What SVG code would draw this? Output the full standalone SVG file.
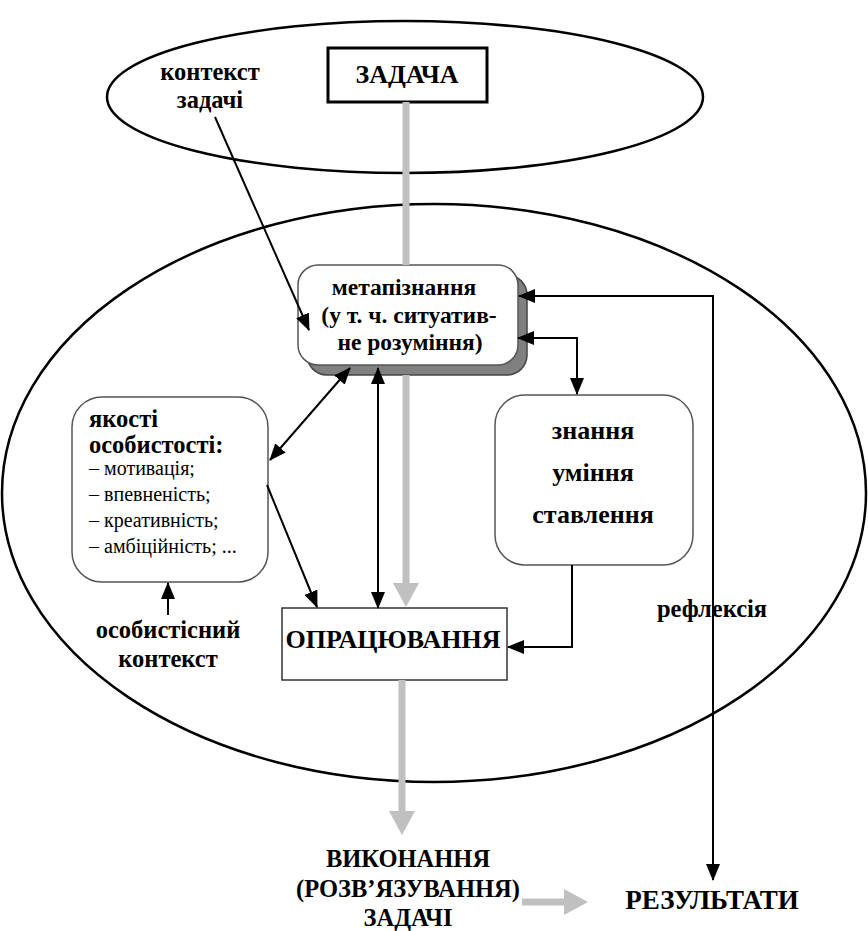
<svg xmlns="http://www.w3.org/2000/svg" width="868" height="931" viewBox="0 0 868 931">
<style>
text{font-family:"Liberation Serif","DejaVu Serif",serif}
.b{font-weight:bold;font-size:24.5px;fill:#000}
.r{font-size:20px;fill:#000}
.c{text-anchor:middle}
.ell{fill:none;stroke:#000;stroke-width:2.5}
.rbox{fill:#fff;stroke:#555;stroke-width:1.5}
.k{fill:none;stroke:#000;stroke-width:2}
.g{fill:none;stroke:#c0c0c0;stroke-width:7}
</style>
<defs>
<marker id="ah" markerUnits="userSpaceOnUse" markerWidth="17" markerHeight="14" refX="16" refY="7" orient="auto-start-reverse" viewBox="0 0 17 14">
<path d="M0,0 L17,7 L0,14 z" fill="#000"/>
</marker>
<marker id="gh" markerUnits="userSpaceOnUse" markerWidth="24" markerHeight="26" refX="4" refY="13" orient="auto" viewBox="0 0 24 26">
<path d="M0,0 L24,13 L0,26 z" fill="#c0c0c0"/>
</marker>
</defs>
<rect width="868" height="931" fill="#fff"/>
<g id="ellipses">
<ellipse id="task-context-ellipse" class="ell" cx="405" cy="97" rx="298" ry="76"/>
<ellipse id="process-ellipse" class="ell" cx="434" cy="493" rx="432" ry="289"/>
</g>
<g id="zadacha">
<rect x="328" y="48" width="159" height="54" fill="#fff" stroke="#000" stroke-width="3"/>
<text class="b c" x="407" y="83" style="font-size:26px">ЗАДАЧА</text>
</g>
<g id="kontekst-zadachi">
<text class="b c" x="210" y="80">контекст</text>
<text class="b c" x="210" y="108">задачі</text>
</g>
<g id="metapiznannia">
<rect x="307" y="275" width="220" height="100" rx="20" fill="#808080" stroke="#444" stroke-width="1.5"/>
<rect class="rbox" x="298" y="265" width="220" height="100" rx="20"/>
<text class="b c" x="404" y="295" style="font-size:23.5px">метапізнання</text>
<text class="b c" x="409" y="323" style="font-size:23.5px">(у т. ч. ситуатив-</text>
<text class="b c" x="410" y="350" style="font-size:23.5px">не розуміння)</text>
</g>
<g id="yakosti">
<rect class="rbox" x="72" y="397" width="196" height="185" rx="30"/>
<text class="b" x="89" y="427">якості</text>
<text class="b" x="89" y="453">особистості:</text>
<text class="r" x="89" y="475">– мотивація;</text>
<text class="r" x="89" y="501">– впевненість;</text>
<text class="r" x="89" y="527">– креативність;</text>
<text class="r" x="89" y="553">– амбіційність; ...</text>
</g>
<g id="osobystisnyi-kontekst">
<text class="b c" x="168" y="638">особистісний</text>
<text class="b c" x="168" y="667">контекст</text>
</g>
<g id="znannia">
<rect class="rbox" x="495" y="395" width="198" height="170" rx="30"/>
<text class="b c" x="593" y="439" style="font-size:26px">знання</text>
<text class="b c" x="593" y="481" style="font-size:26px">уміння</text>
<text class="b c" x="593" y="523" style="font-size:26px">ставлення</text>
</g>
<g id="opratsiuvannia">
<rect x="282" y="608" width="225" height="72" fill="#fff" stroke="#333" stroke-width="1.5"/>
<text class="b c" x="393" y="648" style="font-size:26px">ОПРАЦЮВАННЯ</text>
</g>
<g id="vykonannia">
<text class="b c" x="408" y="867">ВИКОНАННЯ</text>
<text class="b c" x="408" y="897">(РОЗВ’ЯЗУВАННЯ)</text>
<text class="b c" x="408" y="926">ЗАДАЧІ</text>
</g>
<g id="rezultaty">
<text class="b c" x="712" y="909" style="font-size:27px">РЕЗУЛЬТАТИ</text>
</g>
<g id="refleksiia-label">
<text class="b c" x="712" y="617">рефлексія</text>
</g>
<g id="connectors">
<line class="g" x1="406" y1="102" x2="406" y2="265"/>
<line class="g" x1="406" y1="375" x2="406" y2="587" marker-end="url(#gh)"/>
<line class="g" x1="402" y1="680" x2="402" y2="815" marker-end="url(#gh)"/>
<line class="g" x1="522" y1="902" x2="568" y2="902" marker-end="url(#gh)"/>
<line class="k" x1="215" y1="117" x2="309" y2="330" marker-end="url(#ah)"/>
<line class="k" x1="350" y1="368" x2="270" y2="460" marker-start="url(#ah)" marker-end="url(#ah)"/>
<line class="k" x1="267" y1="485" x2="317" y2="607" marker-end="url(#ah)"/>
<line class="k" x1="378" y1="368" x2="378" y2="608" marker-start="url(#ah)" marker-end="url(#ah)"/>
<line class="k" x1="168" y1="615" x2="168" y2="583" marker-end="url(#ah)"/>
<path class="k" d="M519,296 H713 V880" marker-start="url(#ah)" marker-end="url(#ah)"/>
<path class="k" d="M518,338 H577 V394" marker-start="url(#ah)" marker-end="url(#ah)"/>
<path class="k" d="M572,565 V647 H508" marker-end="url(#ah)"/>
</g>
</svg>
